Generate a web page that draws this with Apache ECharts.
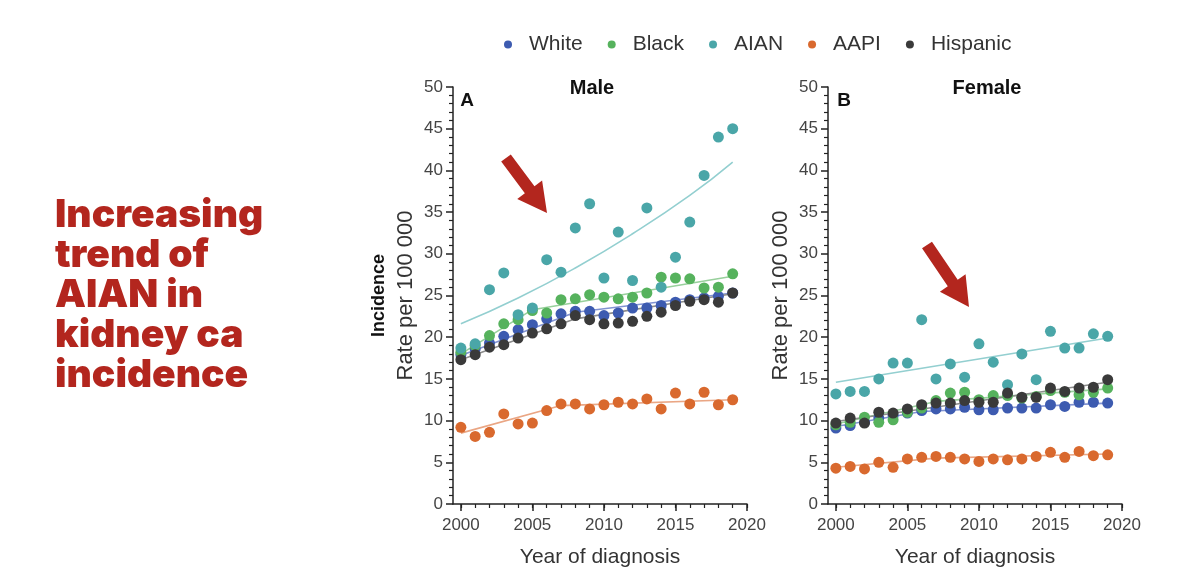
<!DOCTYPE html>
<html>
<head>
<meta charset="utf-8">
<script src="https://cdn.jsdelivr.net/npm/echarts@6/dist/echarts.min.js"></script>
<style>
  html, body { margin: 0; background: #fff; }
  #chart { width: 1200px; height: 587px; }
</style>
</head>
<body>
<div id="chart"></div>
<script>
// years of diagnosis
const years = [2000, 2001, 2002, 2003, 2004, 2005, 2006, 2007, 2008, 2009,
  2010, 2011, 2012, 2013, 2014, 2015, 2016, 2017, 2018, 2019]
const yearTicks = [2000, 2005, 2010, 2015, 2020]
const minorYears = [2000, 2001, 2002, 2003, 2004, 2005, 2006, 2007, 2008, 2009,
  2010, 2011, 2012, 2013, 2014, 2015, 2016, 2017, 2018, 2019, 2020]
const groups = ['White', 'Black', 'AIAN', 'AAPI', 'Hispanic']

// male rates per 100 000
const maleWhite = [17.9, 18.6, 19.3, 20.1, 20.9, 21.5, 22.2, 22.8, 23.1, 23.1, 22.6, 22.9, 23.5, 23.5, 23.8, 24.2, 24.5, 24.7, 24.9, 25.3]
const maleBlack = [18.2, 19.0, 20.2, 21.6, 22.1, 23.2, 22.9, 24.5, 24.6, 25.1, 24.8, 24.6, 24.8, 25.3, 27.2, 27.1, 27.0, 25.9, 26.0, 27.6]
const maleAian = [18.7, 19.2, 25.7, 27.7, 22.7, 23.5, 29.3, 27.8, 33.1, 36.0, 27.1, 32.6, 26.8, 35.5, 26.0, 29.6, 33.8, 39.4, 44.0, 45.0]
const maleAapi = [9.2, 8.1, 8.6, 10.8, 9.6, 9.7, 11.2, 12.0, 12.0, 11.4, 11.9, 12.2, 12.0, 12.6, 11.4, 13.3, 12.0, 13.4, 11.9, 12.5]
const maleHisp = [17.3, 17.9, 18.8, 19.1, 19.9, 20.5, 21.0, 21.6, 22.6, 22.1, 21.6, 21.7, 21.9, 22.5, 23.0, 23.8, 24.3, 24.5, 24.2, 25.3]

// female rates per 100 000
const femaleWhite = [9.1, 9.4, 9.8, 10.3, 10.6, 10.9, 11.2, 11.4, 11.4, 11.6, 11.3, 11.3, 11.5, 11.5, 11.5, 11.9, 11.7, 12.2, 12.2, 12.1]
const femaleBlack = [9.5, 9.8, 10.4, 9.8, 10.1, 11.0, 11.5, 12.4, 13.3, 13.4, 12.5, 13.0, 13.0, 12.7, 12.9, 13.6, 13.4, 13.1, 13.4, 13.9]
const femaleAian = [13.2, 13.5, 13.5, 15.0, 16.9, 16.9, 22.1, 15.0, 16.8, 15.2, 19.2, 17.0, 14.3, 18.0, 14.9, 20.7, 18.7, 18.7, 20.4, 20.1]
const femaleAapi = [4.3, 4.5, 4.2, 5.0, 4.4, 5.4, 5.6, 5.7, 5.6, 5.4, 5.1, 5.4, 5.3, 5.4, 5.7, 6.2, 5.6, 6.3, 5.8, 5.9]
const femaleHisp = [9.7, 10.3, 9.7, 11.0, 10.9, 11.4, 11.9, 12.1, 12.1, 12.4, 12.2, 12.2, 13.3, 12.8, 12.8, 13.9, 13.5, 13.9, 14.0, 14.9]

// fitted trends
const maleWhiteFitX = [2000, 2008, 2019]
const maleWhiteFitY = [17.8, 23.0, 25.3]
const maleBlackFitX = [2000, 2005, 2019]
const maleBlackFitY = [18.0, 23.3, 27.3]
const maleAianFitX = [2000, 2004, 2008, 2012, 2016, 2019]
const maleAianFitY = [21.6, 24.7, 28.3, 32.4, 37.0, 41.0]
const maleAapiFitX = [2000, 2007, 2019]
const maleAapiFitY = [8.5, 11.8, 12.5]
const maleHispFitX = [2000, 2008, 2019]
const maleHispFitY = [17.3, 22.2, 25.2]

const femaleWhiteFitX = [2000, 2006, 2019]
const femaleWhiteFitY = [9.3, 11.1, 12.1]
const femaleBlackFitX = [2000, 2007, 2019]
const femaleBlackFitY = [9.6, 12.3, 13.8]
const femaleAianFitX = [2000, 2019]
const femaleAianFitY = [14.6, 19.9]
const femaleAapiFitX = [2000, 2007, 2019]
const femaleAapiFitY = [4.4, 5.5, 6.0]
const femaleHispFitX = [2000, 2019]
const femaleHispFitY = [9.9, 14.6]

const colors = {
  White: '#3d5bb0',
  Black: '#56b25d',
  AIAN: '#4aa6a8',
  AAPI: '#d9692e',
  Hispanic: '#3a3a3a'
}
const fitColors = {
  White: '#8193d2',
  Black: '#98d09c',
  AIAN: '#93cfd0',
  AAPI: '#eaa684',
  Hispanic: '#8c8c8c'
}

const font = 'Liberation Sans'
const red = '#b3261e'

function zip (xs, ys) {
  return xs.map((x, i) => [x, ys[i]])
}

function points (name, values, axis) {
  return {
    name: name,
    type: 'scatter',
    xAxisIndex: axis * 2,
    yAxisIndex: axis,
    symbol: 'circle',
    symbolSize: 11,
    itemStyle: { color: colors[name], opacity: 1 },
    data: zip(years, values),
    z: 3
  }
}

function fit (name, xs, ys, axis, smooth) {
  return {
    name: name,
    type: 'line',
    xAxisIndex: axis * 2,
    yAxisIndex: axis,
    symbol: 'none',
    smooth: !!smooth,
    lineStyle: { color: fitColors[name], width: 1.6 },
    data: zip(xs, ys),
    z: 2
  }
}

function xAxes (grid) {
  return [{
    gridIndex: grid,
    type: 'value',
    position: 'bottom',
    min: 1999.45,
    max: 2020,
    axisLine: { lineStyle: { color: '#222', width: 1.5 } },
    axisTick: { length: 7, customValues: yearTicks, lineStyle: { color: '#222', width: 1.5 } },
    axisLabel: {
      customValues: yearTicks,
      formatter: (v) => String(v),
      fontSize: 17,
      color: '#444',
      margin: 13,
      fontFamily: font
    },
    splitLine: { show: false },
    name: 'Year of diagnosis',
    nameLocation: 'middle',
    nameGap: 43,
    nameTextStyle: { fontSize: 21, color: '#333', fontFamily: font }
  }, {
    gridIndex: grid,
    type: 'value',
    position: 'bottom',
    offset: 0,
    min: 1999.45,
    max: 2020,
    axisLine: { show: false },
    axisTick: { length: 4, customValues: minorYears, lineStyle: { color: '#222', width: 1.2 } },
    axisLabel: { show: false },
    splitLine: { show: false }
  }]
}

function yAxis (grid, name, gap) {
  return {
    gridIndex: grid,
    type: 'value',
    min: 0,
    max: 50,
    interval: 5,
    axisLine: { show: true, lineStyle: { color: '#222', width: 1.5 } },
    axisTick: { show: true, length: 7, lineStyle: { color: '#222', width: 1.5 } },
    minorTick: { show: true, splitNumber: 5, length: 4, lineStyle: { color: '#222', width: 1.2 } },
    axisLabel: { fontSize: 17, color: '#444', margin: 10, fontFamily: font },
    splitLine: { show: false },
    name: name,
    nameLocation: 'middle',
    nameRotate: 90,
    nameGap: gap,
    nameTextStyle: {
      fontFamily: font,
      rich: {
        b: { fontSize: 18, fontWeight: 'bold', color: '#111', lineHeight: 26, fontFamily: font },
        n: { fontSize: 22, color: '#333', lineHeight: 28, fontFamily: font }
      }
    }
  }
}

function arrow (x1, y1, x2, y2) {
  const shaft = 12
  const head = 31
  const headLen = 29
  const dx = x2 - x1
  const dy = y2 - y1
  const len = Math.hypot(dx, dy)
  const ux = dx / len
  const uy = dy / len
  const px = -uy
  const py = ux
  const bx = x2 - ux * headLen
  const by = y2 - uy * headLen
  return {
    type: 'polygon',
    shape: {
      points: [
        [x1 + px * shaft / 2, y1 + py * shaft / 2],
        [bx + px * shaft / 2, by + py * shaft / 2],
        [bx + px * head / 2, by + py * head / 2],
        [x2, y2],
        [bx - px * head / 2, by - py * head / 2],
        [bx - px * shaft / 2, by - py * shaft / 2],
        [x1 - px * shaft / 2, y1 - py * shaft / 2]
      ]
    },
    style: { fill: red },
    z: 10
  }
}

function label (text, x, y, size, bold) {
  return {
    type: 'text',
    x: x,
    y: y,
    style: {
      text: text,
      fill: '#111',
      fontSize: size,
      fontWeight: bold ? 'bold' : 'normal',
      fontFamily: font,
      align: 'center',
      verticalAlign: 'middle',
      textAlign: 'center',
      textVerticalAlign: 'middle'
    }
  }
}

const series = [
  points('White', maleWhite, 0),
  points('Black', maleBlack, 0),
  points('AIAN', maleAian, 0),
  points('AAPI', maleAapi, 0),
  points('Hispanic', maleHisp, 0),
  points('White', femaleWhite, 1),
  points('Black', femaleBlack, 1),
  points('AIAN', femaleAian, 1),
  points('AAPI', femaleAapi, 1),
  points('Hispanic', femaleHisp, 1),
  fit('White', maleWhiteFitX, maleWhiteFitY, 0),
  fit('Black', maleBlackFitX, maleBlackFitY, 0),
  fit('AIAN', maleAianFitX, maleAianFitY, 0, true),
  fit('AAPI', maleAapiFitX, maleAapiFitY, 0),
  fit('Hispanic', maleHispFitX, maleHispFitY, 0),
  fit('White', femaleWhiteFitX, femaleWhiteFitY, 1),
  fit('Black', femaleBlackFitX, femaleBlackFitY, 1),
  fit('AIAN', femaleAianFitX, femaleAianFitY, 1),
  fit('AAPI', femaleAapiFitX, femaleAapiFitY, 1),
  fit('Hispanic', femaleHispFitX, femaleHispFitY, 1)
]

const chart = echarts.init(document.getElementById('chart'))
chart.setOption({
  backgroundColor: '#fff',
  animation: false,
  textStyle: { fontFamily: font },
  legend: {
    data: groups,
    left: 499,
    top: 29,
    icon: 'circle',
    itemWidth: 8,
    itemHeight: 8,
    itemGap: 25,
    textStyle: { fontSize: 21, color: '#333', fontFamily: font, padding: [0, 0, 0, 12] }
  },
  grid: [
    { left: 453, right: 453, top: 87, bottom: 83 },
    { left: 828, right: 78, top: 87, bottom: 83 }
  ],
  xAxis: xAxes(0).concat(xAxes(1)),
  yAxis: [
    yAxis(0, '{b|Incidence}\n{n|Rate per 100 000}', 33),
    yAxis(1, '{n|Rate per 100 000}', 33)
  ],
  series: series,
  graphic: [
    {
      type: 'text',
      x: 55,
      y: 195,
      style: {
        text: 'Increasing\ntrend of\nAIAN in\nkidney ca\nincidence',
        fill: red,
        fontSize: 39,
        fontWeight: 900,
        fontFamily: 'Inter',
        lineHeight: 40,
        align: 'left',
        verticalAlign: 'top'
      }
    },
    label('Male', 592, 88, 20, true),
    label('Female', 987, 88, 20, true),
    label('A', 467, 101, 19, true),
    label('B', 844, 101, 19, true),
    arrow(506, 158, 547, 213),
    arrow(927, 245, 969, 307)
  ]
})
</script>
</body>
</html>
